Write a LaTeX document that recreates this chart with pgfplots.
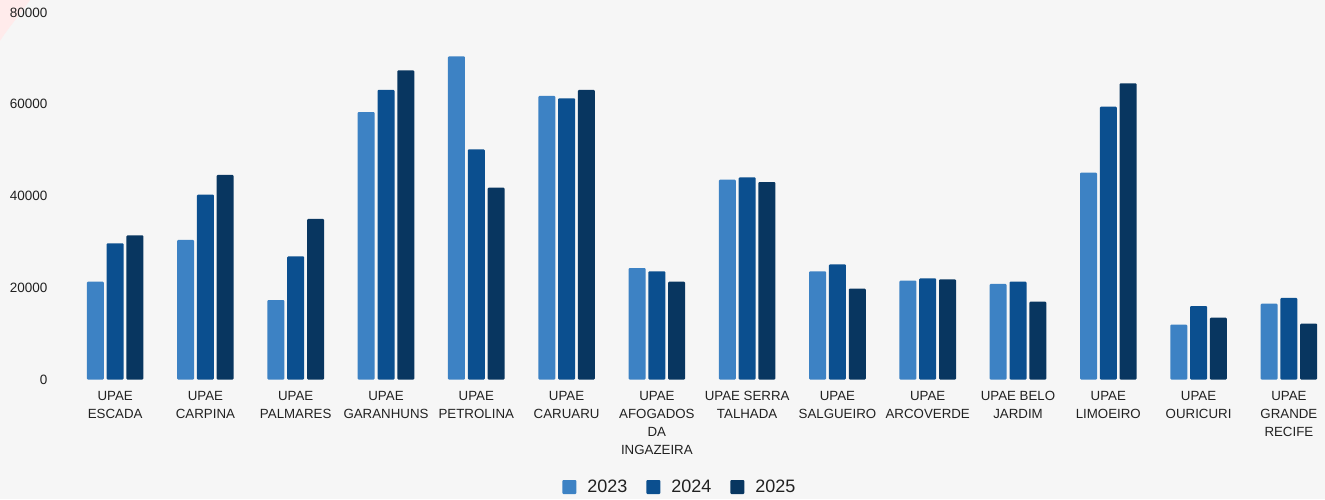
\documentclass[border=0pt]{standalone}
\usepackage{pgfplots}
\pgfplotsset{compat=1.18}
\usepackage{fontspec}
\setmainfont{Liberation Sans}
\definecolor{c23}{RGB}{61,130,196}
\definecolor{c24}{RGB}{11,79,143}
\definecolor{c25}{RGB}{8,54,96}
\definecolor{bg}{RGB}{246,246,246}
\definecolor{txt}{RGB}{33,33,33}
\begin{document}
\begin{tikzpicture}
\useasboundingbox (0pt,0pt) rectangle (1325pt,499pt);
\fill[bg] (0pt,0pt) rectangle (1325pt,499pt);
\fill[red!8] (0pt,499pt) -- (30pt,499pt) .. controls (18pt,482pt) and (6pt,468pt) .. (0pt,458pt) -- cycle;
\begin{axis}[
  at={(70pt,119.5pt)}, anchor=south west,
  scale only axis, width=1255pt, height=367pt,
  xmin=-0.5, xmax=13.4, ymin=0, ymax=80000,
  axis line style={draw=none},
  tick style={draw=none},
  ybar=2.8pt, bar width=17pt,
  xtick={0,...,13},
  xticklabels={{UPAE\\ESCADA},{UPAE\\CARPINA},{UPAE\\PALMARES},{UPAE\\GARANHUNS},{UPAE\\PETROLINA},{UPAE\\CARUARU},{UPAE\\AFOGADOS\\DA\\INGAZEIRA},{UPAE SERRA\\TALHADA},{UPAE\\SALGUEIRO},{UPAE\\ARCOVERDE},{UPAE BELO\\JARDIM},{UPAE\\LIMOEIRO},{UPAE\\OURICURI},{UPAE\\GRANDE\\RECIFE}},
  xticklabel style={align=center, font=\fontsize{13.3}{18}\selectfont, text=txt, yshift=-4pt},
  ytick={0,20000,40000,60000,80000},
  scaled y ticks=false,
  yticklabel style={font=\fontsize{13.5}{16}\selectfont, text=txt, xshift=-19pt},
  /pgf/number format/assume math mode=true,
  /pgf/number format/1000 sep={},
  legend style={at={(0.486,-0.293)}, anchor=center, draw=none, fill=none,
    legend columns=-1, font=\fontsize{18}{20}\selectfont, text=txt,
    /tikz/every odd column/.append style={column sep=9pt},
    /tikz/every even column/.append style={column sep=17pt}},
  legend image code/.code={\fill[#1] (0pt,-7pt) rectangle (14pt,7pt);},
]
\addplot[fill=c23, draw=none, rounded corners=1pt] coordinates {(0,21320) (1,30410) (2,17330) (3,58310) (4,70450) (5,61800) (6,24300) (7,43560) (8,23580) (9,21540) (10,20820) (11,45080) (12,11950) (13,16530)};
\addplot[fill=c24, draw=none, rounded corners=1pt] coordinates {(0,29690) (1,40290) (2,26850) (3,63110) (4,50170) (5,61290) (6,23580) (7,44070) (8,25110) (9,22050) (10,21320) (11,59470) (12,16020) (13,17770)};
\addplot[fill=c25, draw=none, rounded corners=1pt] coordinates {(0,31430) (1,44580) (2,34990) (3,67390) (4,41820) (5,63110) (6,21320) (7,43050) (8,19800) (9,21840) (10,16960) (11,64560) (12,13480) (13,12170)};
\legend{2023,2024,2025}
\end{axis}
\end{tikzpicture}
\end{document}
